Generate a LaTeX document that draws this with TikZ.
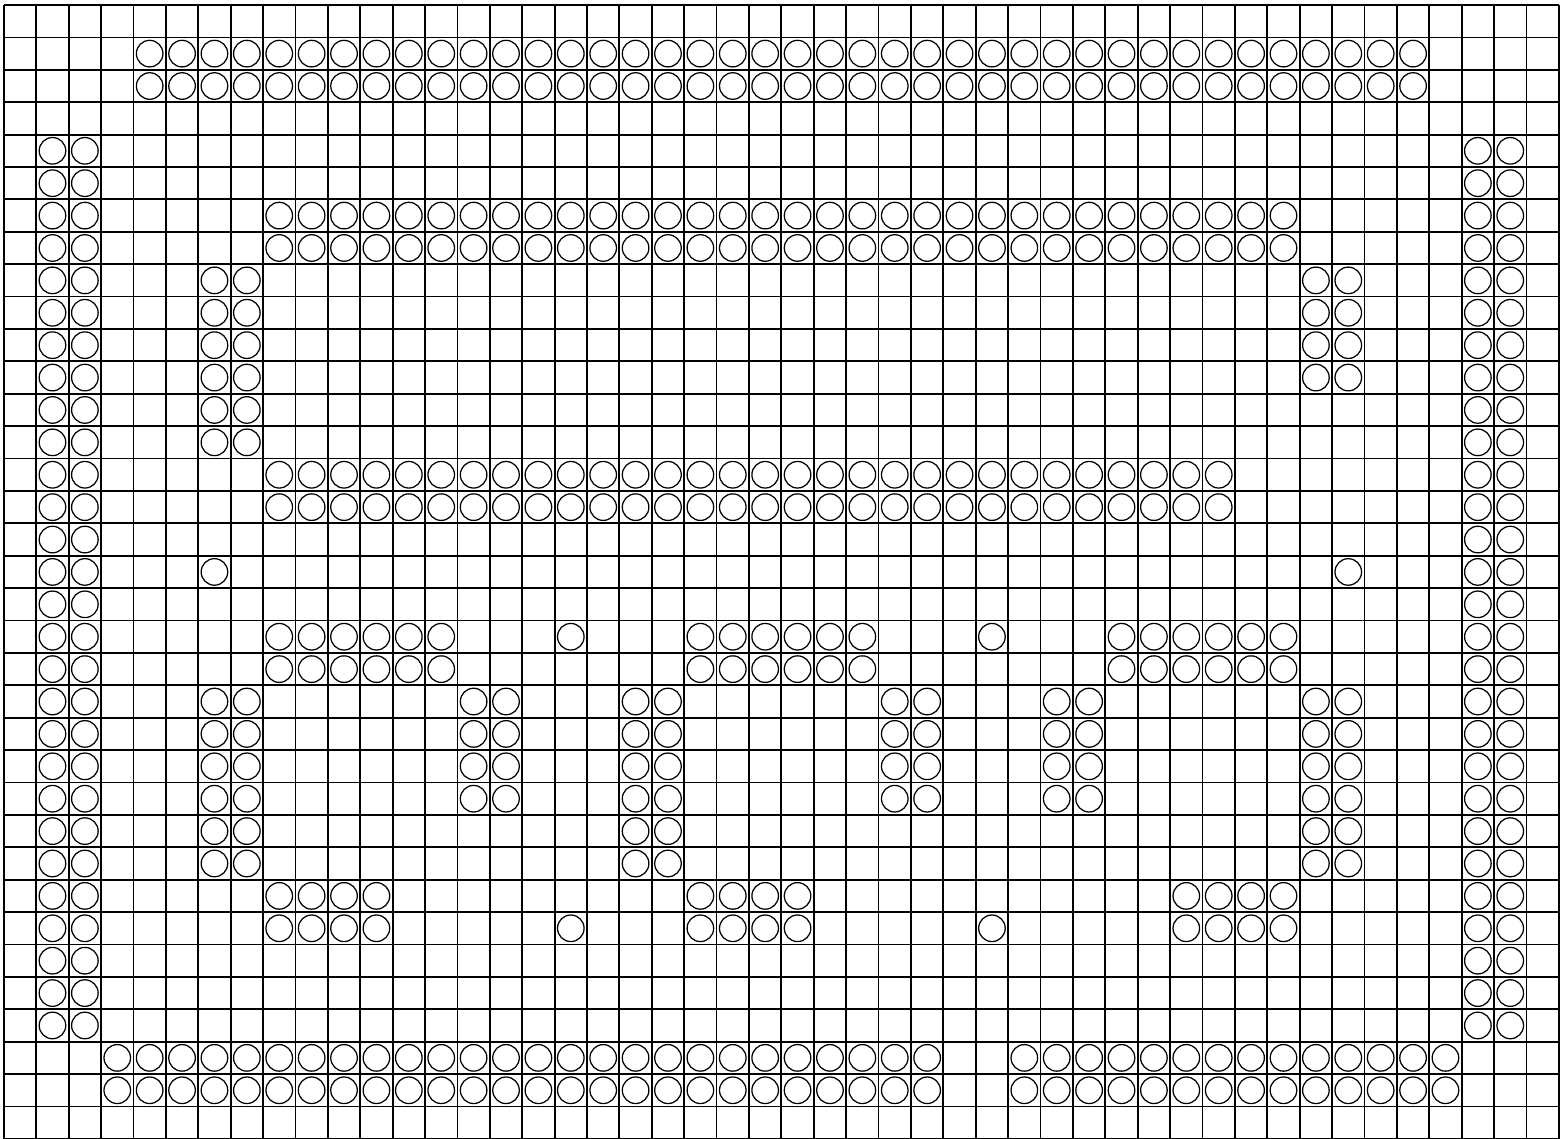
\documentclass[tikz,border=0pt]{standalone}
\usetikzlibrary{shapes.geometric}
\begin{document}
\begin{tikzpicture}[x=1cm,y=1cm,
  gridline/.style={line width=1.6pt,black},
  blob/.style={circle,draw=black,line width=1.1pt,minimum size=0.82cm,inner sep=0pt}]
\useasboundingbox (-0.12,-35.0) rectangle (48.19,0.155);
\draw[gridline] (0,0) grid (48,-35);
\foreach \ca/\cb/\ra/\rb in {
  4/43/1/2, 1/2/4/31, 45/46/4/31, 8/39/6/7, 6/7/8/13, 40/41/8/11,
  8/37/14/15, 6/6/17/17, 41/41/17/17,
  8/13/19/20, 17/17/19/19, 21/26/19/20, 30/30/19/19, 34/39/19/20,
  6/7/21/26, 14/15/21/24, 19/20/21/26, 27/28/21/24, 32/33/21/24, 40/41/21/26,
  8/11/27/28, 17/17/28/28, 21/24/27/28, 30/30/28/28, 36/39/27/28,
  3/28/32/33, 31/44/32/33}{
  \foreach \c in {\ca,...,\cb}{
    \foreach \r in {\ra,...,\rb}{
      \node[blob] (b-\c-\r) at (\c+0.5,-\r-0.5) {};
    }
  }
}
\end{tikzpicture}
\end{document}
